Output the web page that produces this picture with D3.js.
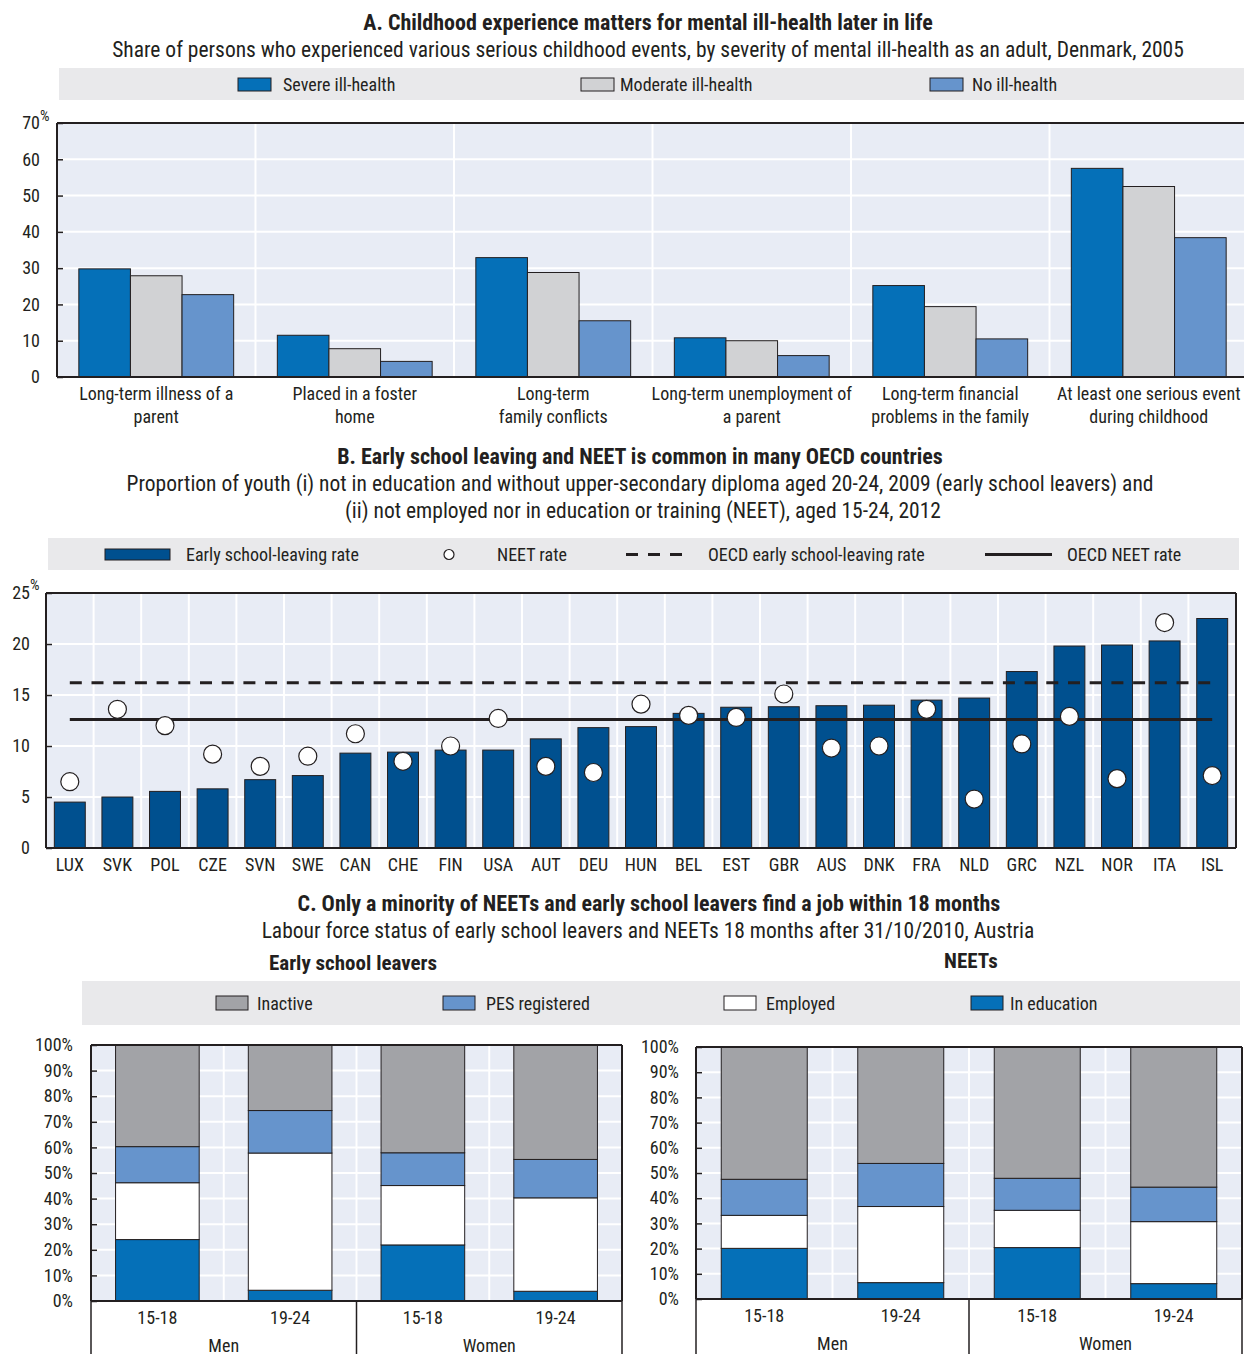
<!DOCTYPE html>
<html lang="en">
<head>
<meta charset="UTF-8">
<title>Childhood experience, early school leaving and NEET</title>
<script src="https://cdn.jsdelivr.net/npm/d3@7/dist/d3.min.js"></script>
<style>
    body { margin: 0; background: #fff; }
    svg text { font-family: "Liberation Sans Narrow", "Arial Narrow", "Roboto Condensed", sans-serif; fill: #231f20; }
</style>
</head>
<body>
<svg id="main" width="1244" height="1354"></svg>
<script>
    // ---- Panel A data
    const aCategories = ["Long-term illness of a|parent", "Placed in a foster|home", "Long-term|family conflicts",
        "Long-term unemployment of|a parent", "Long-term financial|problems in the family",
        "At least one serious event|during childhood"];
    const aSeries = ["Severe ill-health", "Moderate ill-health", "No ill-health"];
    const aSevere = [29.8, 11.5, 32.9, 10.8, 25.2, 57.5];
    const aModerate = [27.9, 7.8, 28.8, 10.0, 19.4, 52.5];
    const aNone = [22.7, 4.3, 15.5, 5.9, 10.5, 38.4];
    const aTicks = [0, 10, 20, 30, 40, 50, 60, 70];

    // ---- Panel B data
    const bCountries = ["LUX", "SVK", "POL", "CZE", "SVN", "SWE", "CAN", "CHE", "FIN", "USA", "AUT", "DEU", "HUN",
        "BEL", "EST", "GBR", "AUS", "DNK", "FRA", "NLD", "GRC", "NZL", "NOR", "ITA", "ISL"];
    const bEarly = [4.5, 5.0, 5.55, 5.8, 6.7, 7.1, 9.3, 9.4, 9.6, 9.6, 10.7, 11.8, 11.9,
        13.2, 13.8, 13.85, 13.95, 14.0, 14.5, 14.7, 17.3, 19.8, 19.9, 20.3, 22.5];
    const bNeet = [6.5, 13.6, 12.0, 9.2, 8.0, 9.0, 11.2, 8.5, 10.0, 12.7, 8.0, 7.4, 14.1,
        13.0, 12.8, 15.1, 9.8, 10.0, 13.6, 4.8, 10.2, 12.9, 6.8, 22.1, 7.1];
    const oecdEarly = 16.2;
    const oecdNeet = 12.6;
    const bTicks = [0, 5, 10, 15, 20, 25];

    // ---- Panel C data
    const cAges = ["15-18", "19-24", "15-18", "19-24"];
    const cGroups = ["Men", "Women"];
    const cStatus = ["In education", "Employed", "PES registered", "Inactive"];
    const leaversEducation = [24.0, 4.2, 21.9, 3.8];
    const leaversEmployed = [22.2, 53.6, 23.2, 36.5];
    const leaversPes = [14.1, 16.6, 12.8, 15.0];
    const leaversInactive = [39.7, 25.6, 42.1, 44.7];
    const neetEducation = [20.1, 6.5, 20.4, 6.1];
    const neetEmployed = [13.1, 30.2, 14.8, 24.6];
    const neetPes = [14.3, 17.1, 12.7, 13.7];
    const neetInactive = [52.5, 46.2, 52.1, 55.6];
    const cTicks = d3.range(0, 101, 10);

    const ink = "#231f20";
    const plotBg = "#e8ecf5";
    const bandBg = "#e9e9eb";

    let svg = d3.select("svg#main");

    function title(text, x, y, bold, size) {
        svg.append("text").attr("x", x).attr("y", y)
            .attr("text-anchor", "middle").attr("dominant-baseline", "central")
            .style("font-size", size + "px").style("font-weight", bold ? "bold" : "normal")
            .text(text);
    }

    function legendText(text, x, y) {
        svg.append("text").attr("x", x).attr("y", y).attr("dominant-baseline", "central")
            .style("font-size", "18px").text(text);
    }

    function swatch(x, y, w, h, fill) {
        svg.append("rect").attr("x", x).attr("y", y).attr("width", w).attr("height", h)
            .attr("fill", fill).attr("stroke", ink).attr("stroke-width", 1);
    }

    // plot background + white grid
    function plotFrame(x0, x1, y, ticks, vLines) {
        let g = svg.append("g");
        g.append("rect").attr("x", x0).attr("y", y.range()[1])
            .attr("width", x1 - x0).attr("height", y.range()[0] - y.range()[1]).attr("fill", plotBg);
        g.selectAll(".hgrid").data(ticks.slice(1)).enter().append("line")
            .attr("x1", x0).attr("x2", x1).attr("y1", d => y(d)).attr("y2", d => y(d))
            .attr("stroke", "#fff").attr("stroke-width", 2);
        g.selectAll(".vgrid").data(vLines).enter().append("line")
            .attr("x1", d => d).attr("x2", d => d).attr("y1", y.range()[1]).attr("y2", y.range()[0])
            .attr("stroke", "#fff").attr("stroke-width", 2);
        return g;
    }

    function boundaries(x) {
        let pad = x.step() * x.paddingInner() / 2;
        return x.domain().slice(1).map(d => x(d) - pad);
    }

    function yAxis(x0, y, ticks, fmt, pad) {
        let g = svg.append("g").attr("transform", "translate(" + x0 + ",0)")
            .call(d3.axisLeft(y).tickValues(ticks).tickFormat(fmt).tickSize(-6).tickPadding(pad));
        g.select(".domain").remove();
        g.selectAll("line").attr("stroke", ink).attr("stroke-width", 1.5);
        g.selectAll("text").style("font-size", "18px").attr("fill", ink);
        g.attr("font-family", null).attr("font-size", null);
    }

    function border(x0, x1, y0, y1, sides) {
        sides.forEach(s => {
            let l = svg.append("line").attr("stroke", ink).attr("stroke-width", 2);
            if (s === "t") l.attr("x1", x0).attr("x2", x1).attr("y1", y0).attr("y2", y0);
            if (s === "b") l.attr("x1", x0).attr("x2", x1).attr("y1", y1).attr("y2", y1);
            if (s === "l") l.attr("x1", x0).attr("x2", x0).attr("y1", y0).attr("y2", y1);
            if (s === "r") l.attr("x1", x1).attr("x2", x1).attr("y1", y0).attr("y2", y1);
        });
    }

    // ================= Panel A =================
    title("A. Childhood experience matters for mental ill-health later in life", 648, 22, true, 22);
    title("Share of persons who experienced various serious childhood events, by severity of mental ill-health as an adult, Denmark, 2005", 648, 49, false, 21.5);

    const aColors = ["#0570b8", "#d1d2d4", "#6694cc"];
    svg.append("rect").attr("x", 59).attr("y", 68).attr("width", 1185).attr("height", 32).attr("fill", bandBg);
    [[238, 283], [581, 620], [930, 972]].forEach((p, i) => {
        swatch(p[0], 78, 33, 13, aColors[i]);
        legendText(aSeries[i], p[1], 84.5);
    });

    let xA = d3.scaleBand().domain(d3.range(aCategories.length)).range([57, 1248])
        .paddingInner(0.22).paddingOuter(0.11);
    let xAin = d3.scaleBand().domain(d3.range(3)).range([0, xA.bandwidth()]);
    let yA = d3.scaleLinear().domain([0, 70]).range([377, 123]);
    plotFrame(57, 1244, yA, aTicks, boundaries(xA));

    const aValues = [aSevere, aModerate, aNone];
    aValues.forEach((vals, s) => {
        svg.append("g").selectAll("rect").data(vals).enter().append("rect")
            .attr("x", (d, i) => xA(i) + xAin(s))
            .attr("y", d => yA(d))
            .attr("width", xAin.bandwidth())
            .attr("height", d => yA(0) - yA(d))
            .attr("fill", aColors[s]).attr("stroke", ink).attr("stroke-width", 1);
    });
    border(57, 1244, 123, 377, ["t", "b", "l"]);
    yAxis(57, yA, aTicks, d => d, 17);
    svg.append("text").attr("x", 40).attr("y", 121).style("font-size", "15px").text("%");

    aCategories.forEach((c, i) => {
        c.split("|").forEach((line, k) => {
            svg.append("text").attr("x", xA(i) + xA.bandwidth() / 2).attr("y", 393 + k * 23)
                .attr("text-anchor", "middle").attr("dominant-baseline", "central")
                .style("font-size", "18px").text(line);
        });
    });

    // ================= Panel B =================
    title("B. Early school leaving and NEET is common in many OECD countries", 640, 456, true, 22);
    title("Proportion of youth (i) not in education and without upper-secondary diploma aged 20-24, 2009 (early school leavers) and", 640, 483, false, 21.5);
    title("(ii) not employed nor in education or training (NEET), aged 15-24, 2012", 643, 510, false, 21.5);

    const barB = "#00508f";
    svg.append("rect").attr("x", 48).attr("y", 538).attr("width", 1191).attr("height", 32).attr("fill", bandBg);
    swatch(105, 549, 65, 11, barB);
    legendText("Early school-leaving rate", 186, 554.5);
    svg.append("circle").attr("cx", 449).attr("cy", 554.5).attr("r", 5).attr("fill", "#fff")
        .attr("stroke", ink).attr("stroke-width", 1.2);
    legendText("NEET rate", 497, 554.5);
    svg.append("line").attr("x1", 626).attr("x2", 684).attr("y1", 554.5).attr("y2", 554.5)
        .attr("stroke", ink).attr("stroke-width", 3).attr("stroke-dasharray", "12,10");
    legendText("OECD early school-leaving rate", 708, 554.5);
    svg.append("line").attr("x1", 985).attr("x2", 1052).attr("y1", 554.5).attr("y2", 554.5)
        .attr("stroke", ink).attr("stroke-width", 3);
    legendText("OECD NEET rate", 1067, 554.5);

    let xB = d3.scaleBand().domain(bCountries).range([46, 1236]).paddingInner(0.35).paddingOuter(0.175);
    let yB = d3.scaleLinear().domain([0, 25]).range([848, 593]);
    plotFrame(46, 1236, yB, bTicks, boundaries(xB));

    svg.append("g").selectAll("rect").data(bEarly).enter().append("rect")
        .attr("x", (d, i) => xB(bCountries[i]))
        .attr("y", d => yB(d))
        .attr("width", xB.bandwidth())
        .attr("height", d => yB(0) - yB(d))
        .attr("fill", barB).attr("stroke", ink).attr("stroke-width", 1);

    const ends = [bCountries[0], bCountries[bCountries.length - 1]];
    let oecdLine = v => d3.line().x(c => xB(c) + xB.bandwidth() / 2).y(() => yB(v));
    svg.append("path").datum(ends).attr("d", oecdLine(oecdEarly)).attr("fill", "none")
        .attr("stroke", ink).attr("stroke-width", 3.2).attr("stroke-dasharray", "12,9.7");
    svg.append("path").datum(ends).attr("d", oecdLine(oecdNeet)).attr("fill", "none")
        .attr("stroke", ink).attr("stroke-width", 3.2);

    svg.append("g").selectAll("circle").data(bNeet).enter().append("circle")
        .attr("cx", (d, i) => xB(bCountries[i]) + xB.bandwidth() / 2)
        .attr("cy", d => yB(d))
        .attr("r", 9).attr("fill", "#fff").attr("stroke", ink).attr("stroke-width", 1.2);

    border(46, 1236, 593, 848, ["t", "b", "l", "r"]);
    yAxis(46, yB, bTicks, d => d, 16);
    svg.append("text").attr("x", 30).attr("y", 590).style("font-size", "15px").text("%");

    svg.append("g").selectAll("text").data(bCountries).enter().append("text")
        .attr("x", d => xB(d) + xB.bandwidth() / 2).attr("y", 864)
        .attr("text-anchor", "middle").attr("dominant-baseline", "central")
        .style("font-size", "18px").text(d => d);

    // ================= Panel C =================
    title("C. Only a minority of NEETs and early school leavers find a job within 18 months", 649, 903, true, 22);
    title("Labour force status of early school leavers and NEETs 18 months after 31/10/2010, Austria", 648, 930, false, 21.5);
    title("Early school leavers", 353, 963, true, 21);
    title("NEETs", 971, 961, true, 21);

    const cColors = {"In education": "#0570b8", "Employed": "#ffffff", "PES registered": "#6694cc", "Inactive": "#a2a3a7"};
    svg.append("rect").attr("x", 82).attr("y", 981).attr("width", 1158).attr("height", 44).attr("fill", bandBg);
    [["Inactive", 216, 257], ["PES registered", 443, 486], ["Employed", 724, 766], ["In education", 971, 1010]]
        .forEach(p => {
            swatch(p[1], 996, 32, 14, cColors[p[0]]);
            legendText(p[0], p[2], 1003);
        });

    function stackedChart(x0, x1, yTop, yBot, series, labelPad) {
        let x = d3.scaleBand().domain(d3.range(cAges.length)).range([x0, x1])
            .paddingInner(0.37).paddingOuter(0.185);
        let y = d3.scaleLinear().domain([0, 100]).range([yBot, yTop]);
        plotFrame(x0, x1, y, cTicks, boundaries(x));

        let rows = cAges.map((a, i) => {
            let r = {};
            cStatus.forEach((s, k) => r[s] = series[k][i]);
            return r;
        });
        let stack = d3.stack().keys(cStatus)(rows);
        svg.append("g").selectAll("g").data(stack).enter().append("g")
            .attr("fill", d => cColors[d.key])
            .selectAll("rect").data(d => d).enter().append("rect")
            .attr("x", (d, i) => x(i))
            .attr("y", d => y(d[1]))
            .attr("width", x.bandwidth())
            .attr("height", d => y(d[0]) - y(d[1]))
            .attr("stroke", ink).attr("stroke-width", 1);

        border(x0, x1, yTop, yBot, ["t", "b", "l", "r"]);
        yAxis(x0, y, cTicks, d => d + "%", labelPad);

        cAges.forEach((a, i) => {
            svg.append("text").attr("x", x(i) + x.bandwidth() / 2).attr("y", yBot + 16)
                .attr("text-anchor", "middle").attr("dominant-baseline", "central")
                .style("font-size", "18px").text(a);
        });
        let half = (x1 - x0) / 2;
        cGroups.forEach((gName, k) => {
            svg.append("text").attr("x", x0 + half * k + half / 2).attr("y", yBot + 44)
                .attr("text-anchor", "middle").attr("dominant-baseline", "central")
                .style("font-size", "18px").text(gName);
        });
        [x0, x0 + half, x1].forEach(v => {
            svg.append("line").attr("x1", v).attr("x2", v).attr("y1", yBot).attr("y2", 1354)
                .attr("stroke", ink).attr("stroke-width", 1.5);
        });
    }

    stackedChart(91, 622, 1045, 1301,
        [leaversEducation, leaversEmployed, leaversPes, leaversInactive], 18);
    stackedChart(696, 1242, 1047, 1299,
        [neetEducation, neetEmployed, neetPes, neetInactive], 17);
</script>
</body>
</html>
